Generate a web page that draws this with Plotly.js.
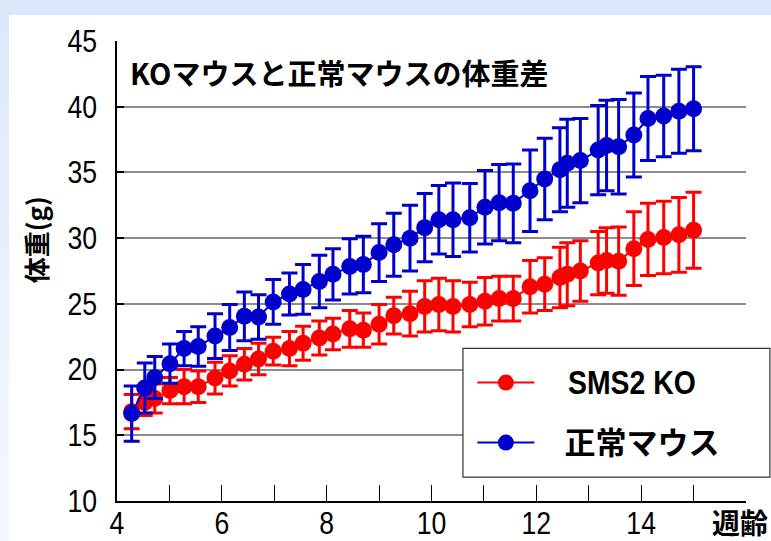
<!DOCTYPE html>
<html>
<head>
<meta charset="utf-8">
<script src="https://cdn.plot.ly/plotly-3.0.1.min.js"></script>
<style>
  html, body { margin: 0; padding: 0; width: 771px; height: 541px; overflow: hidden;
    background: linear-gradient(to bottom, #dbe7fb 0%, #eef4fd 70%, #f4f7fc 100%); }
  #chart { position: absolute; left: 9px; top: 15px; width: 762px; height: 526px; }
  /* narrow (condensed) numerals like the original: only the label groups, not the tick marks */
  #chart g.xtick { transform-box: fill-box; transform-origin: center; transform: scaleX(0.86); }
  #chart g.ytick { transform-box: fill-box; transform-origin: right center; transform: scaleX(0.86); }
  #chart .legend g.groups:first-of-type .legendtext { transform-box: fill-box; transform-origin: left center; transform: scaleX(0.86); }
</style>
</head>
<body>
<div id="chart"></div>
<script>
// Age in weeks (shared by both groups)
const weeks = [4.28,4.53,4.72,5.01,5.28,5.55,5.87,6.15,6.43,6.70,6.98,7.29,7.55,7.86,8.12,8.44,8.70,9.00,9.28,9.59,9.87,10.14,10.41,10.73,11.02,11.29,11.56,11.88,12.16,12.45,12.59,12.84,13.18,13.34,13.57,13.86,14.13,14.43,14.72,15.00];
// SMS2 KO mean body weight (g) and SD
const koMean = [16.8,17.5,17.8,18.4,18.7,18.7,19.35,19.9,20.4,20.8,21.4,21.6,22.0,22.4,22.7,23.1,23.0,23.45,24.1,24.25,24.8,24.95,24.8,24.95,25.2,25.4,25.4,26.3,26.5,27.0,27.25,27.5,28.1,28.3,28.25,29.2,29.9,30.05,30.25,30.6];
const koSD = [1.3,1.0,1.1,1.0,1.3,1.2,1.2,1.15,1.2,1.2,1.05,1.3,1.3,1.3,1.2,1.4,1.3,1.5,1.4,1.7,1.95,2.0,1.95,1.7,1.8,1.7,1.7,2.0,2.0,2.3,2.4,2.3,2.4,2.5,2.6,2.8,2.75,2.75,2.85,2.9];
// Normal (wild type) mouse mean body weight (g) and SD
const wtMean = [16.65,18.6,19.4,20.45,21.6,21.75,22.55,23.2,24.05,24.0,25.15,25.75,26.1,26.7,27.25,27.85,28.0,28.9,29.5,30.0,30.8,31.4,31.4,31.55,32.35,32.7,32.65,33.6,34.5,35.2,35.7,35.9,36.7,37.05,36.95,37.85,39.1,39.3,39.65,39.85];
const wtSD = [2.1,1.9,1.6,1.5,1.3,1.5,1.7,1.75,1.85,1.7,1.7,1.6,1.9,2.0,1.95,2.1,2.15,2.2,2.4,2.5,2.6,2.6,2.8,2.6,2.8,2.9,3.0,3.1,3.1,3.2,3.35,3.2,3.4,3.45,3.6,3.2,3.2,3.1,3.2,3.2];

const seriesNames = ['SMS2 KO', '正常マウス'];
const xTickVals = [4,5,6,7,8,9,10,11,12,13,14,15,16];
const xTickText = ['4','','6','','8','','10','','12','','14','',''];
const yTickVals = [10,15,20,25,30,35,40,45];
const chartTitle = 'KOマウスと正常マウスの体重差';
const yTitle = '体重(g)';
const xTitle = '週齢';

const NUM_FONT = '"Liberation Sans", Arial, sans-serif';
const CJK_FONT = '"Noto Sans CJK JP", "Noto Sans", sans-serif';
const NB = '\u00a0';

const wt = {
  x: weeks, y: wtMean, name: '<b>' + NB + NB + NB + '<span style="font-size:31px">' + seriesNames[1] + '</span></b>',
  type: 'scatter', mode: 'lines+markers', legendgroup: 'wt',
  line: { color: '#0000cc', width: 2 },
  marker: { color: '#0000cc', size: 17 },
  error_y: { type: 'data', array: wtSD, visible: true, color: '#0000cc', thickness: 3, width: 8 }
};
const ko = {
  x: weeks, y: koMean, name: '<b>' + NB + NB + NB + NB + '<span style="font-size:33px">' + seriesNames[0] + '</span></b>',
  type: 'scatter', mode: 'lines+markers', legendgroup: 'ko',
  line: { color: '#ff0000', width: 2 },
  marker: { color: '#ff0000', size: 17 },
  error_y: { type: 'data', array: koSD, visible: true, color: '#ff0000', thickness: 3, width: 8 }
};

const layout = {
  width: 762, height: 526,
  margin: { l: 108, r: 25, t: 25.5, b: 40, pad: 0 },
  paper_bgcolor: '#ffffff', plot_bgcolor: '#ffffff',
  showlegend: true,
  font: { family: NUM_FONT, color: '#000000' },
  xaxis: {
    range: [4, 16], tickmode: 'array', tickvals: xTickVals, ticktext: xTickText,
    ticks: 'inside', ticklen: 16, tickwidth: 1, tickcolor: '#000000',
    showline: true, linecolor: '#000000', linewidth: 1.5,
    showgrid: false, zeroline: false,
    tickfont: { family: NUM_FONT, size: 31, color: '#000000' },
    ticklabelstandoff: -6, fixedrange: true
  },
  yaxis: {
    range: [10, 45], tickmode: 'array', tickvals: yTickVals,
    ticks: 'inside', ticklen: 7, tickwidth: 1.5, tickcolor: '#000000',
    showline: true, linecolor: '#000000', linewidth: 1.5,
    showgrid: true, gridcolor: '#8c8c8c', gridwidth: 1.5, zeroline: false,
    tickfont: { family: NUM_FONT, size: 31, color: '#000000' },
    ticklabelstandoff: 12, fixedrange: true
  },
  legend: {
    x: 0.565, y: 0.314, xanchor: 'left', yanchor: 'top',
    bgcolor: 'rgba(0,0,0,0)', borderwidth: 0,
    font: { family: NUM_FONT + ', ' + CJK_FONT, size: 30, color: '#000000' },
    traceorder: 'grouped', tracegroupgap: 18, itemwidth: 57,
    itemclick: false, itemdoubleclick: false
  },
  shapes: [{
    type: 'rect', xref: 'paper', yref: 'paper', layer: 'above',
    x0: 0.550, x1: 1.038, y0: 0.052, y1: 0.332,
    fillcolor: '#ffffff', line: { color: '#333333', width: 1.2 }
  }],
  annotations: [
    { text: '<b>' + chartTitle + '</b>', xref: 'paper', yref: 'paper',
      x: (128 - 117) / 629, y: 1 - (72 - 40.5) / 460.5, xanchor: 'left', yanchor: 'middle',
      showarrow: false, font: { family: CJK_FONT, size: 29, color: '#000000' } },
    { text: '<b>' + yTitle + '</b>', xref: 'paper', yref: 'paper', textangle: -90,
      x: (35 - 117) / 629, y: (501 - 240) / 460.5, xanchor: 'center', yanchor: 'middle',
      showarrow: false, font: { family: CJK_FONT, size: 26, color: '#000000' } },
    { text: '<b>' + xTitle + '</b>', xref: 'paper', yref: 'paper',
      x: (740 - 117) / 629, y: 1 - (522 - 40.5) / 460.5, xanchor: 'center', yanchor: 'middle',
      showarrow: false, font: { family: CJK_FONT, size: 28, color: '#000000' } }
  ]
};

Plotly.newPlot('chart', [ko, wt], layout, { displayModeBar: false });
</script>
</body>
</html>
